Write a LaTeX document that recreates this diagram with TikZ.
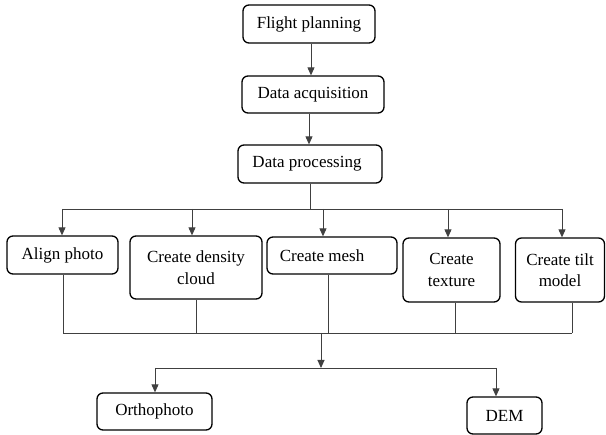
\documentclass[tikz,border=0pt]{standalone}
\usepackage{fontspec}
\setmainfont{Liberation Serif}
\usetikzlibrary{arrows.meta}
\begin{document}
\begin{tikzpicture}[x=1pt,y=-1pt,
  box/.style={draw=black,line width=1.3pt,rounded corners=6pt,inner sep=0pt,align=center,
    font=\fontsize{17}{21.5}\selectfont},
  conn/.style={draw=black!75,line width=0.9pt},
  arr/.style={conn,-{Triangle[length=8pt,width=7pt]}}]
\useasboundingbox (0,0) rectangle (606,435);
\node[box,minimum width=132pt,minimum height=38pt] (fp) at (309,24) {Flight planning};
\node[box,minimum width=142pt,minimum height=37pt] (da) at (313,94.5) {Data acquisition};
\node[box,minimum width=144pt,minimum height=38pt] (dp) at (310,164) {Data processing\rule{6pt}{0pt}};
\node[box,minimum width=111pt,minimum height=38pt] (al) at (62.5,255) {Align photo};
\node[box,minimum width=132pt,minimum height=63pt] (de) at (196,267.5) {Create density\\cloud};
\node[box,minimum width=130pt,minimum height=37pt] (me) at (332,255.5) {Create mesh\rule{20pt}{0pt}};
\node[box,minimum width=97pt,minimum height=64pt] (te) at (451.5,270) {Create\\texture};
\node[box,minimum width=89pt,minimum height=64pt] (ti) at (560,270) {Create tilt\\model};
\node[box,minimum width=115pt,minimum height=37pt] (or) at (154.5,411.5) {Orthophoto};
\node[box,minimum width=75pt,minimum height=37pt] (dem) at (504.5,415.5) {DEM};
\coordinate (b1) at (310,209);
\coordinate (b1l) at (62,209);
\coordinate (b1r) at (562,209);
\coordinate (b2) at (321,333);
\coordinate (b2l) at (63,333);
\coordinate (b2r) at (572,333);
\coordinate (sp) at (321,368);
\coordinate (spl) at (155,368);
\coordinate (spr) at (496,368);
% top chain
\draw[arr] ([xshift=2pt]fp.south) -- ([xshift=2pt]fp.south |- da.north);
\draw[arr] ([xshift=-4pt]da.south) -- ([xshift=-4pt]da.south |- dp.north);
\draw[conn] (dp.south) -- (b1);
\draw[conn] (b1l) -- (b1r);
\draw[arr] (b1l) -- (b1l |- al.north);
\draw[arr] (192,209) -- (192,209 |- de.north);
\draw[arr] (323,209) -- (323,209 |- me.north);
\draw[arr] (448,209) -- (448,209 |- te.north);
\draw[arr] (b1r) -- (b1r |- ti.north);
% lower bus
\draw[conn] (b2l) -- (b2r);
\draw[conn] (al.south -| b2l) -- (b2l);
\draw[conn] (de.south) -- (de.south |- b2);
\draw[conn] ([xshift=-4pt]me.south) -- ([xshift=-4pt]me.south |- b2);
\draw[conn] ([xshift=3.5pt]te.south) -- ([xshift=3.5pt]te.south |- b2);
\draw[conn] (ti.south -| b2r) -- (b2r);
\draw[arr] (b2) -- (sp);
\draw[conn] (spl) -- (spr);
\draw[arr] (spl) -- (spl |- or.north);
\draw[arr] (spr) -- (spr |- dem.north);
\end{tikzpicture}
\end{document}
